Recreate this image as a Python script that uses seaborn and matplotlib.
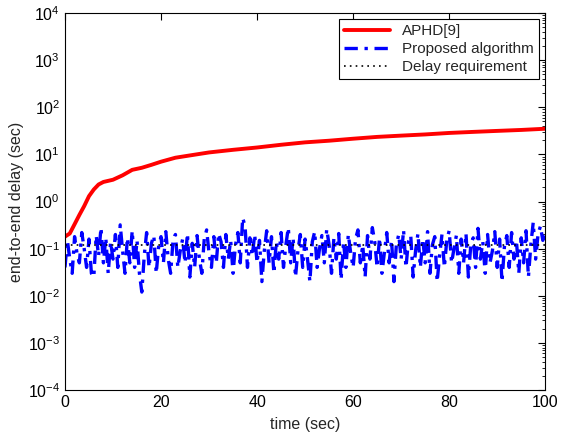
import numpy as np
import pandas as pd
import matplotlib
matplotlib.use("Agg")
import matplotlib.pyplot as plt
import seaborn as sns
from matplotlib.ticker import FixedLocator, NullFormatter

# ---- data ----
t_red = [0, 1, 2, 3, 4, 5, 6, 7, 8, 10, 12, 14, 16, 18, 20, 23, 26, 30, 35, 40, 45,
         50, 55, 60, 65, 70, 75, 80, 85, 90, 95, 100]
aphd = [0.18, 0.21, 0.33, 0.52, 0.8, 1.3, 1.8, 2.3, 2.6, 2.9, 3.6, 4.7, 5.2, 6.0,
        7.0, 8.5, 9.5, 11.0, 12.5, 14.0, 16.0, 18.0, 19.5, 21.5, 23.5, 25.0, 26.5,
        28.5, 30.0, 31.5, 33.0, 35.0]

t_blue = [i * 0.5 for i in range(201)]
proposed = [
    0.04, 0.15, 0.06, 0.03, 0.18, 0.08, 0.05, 0.22, 0.10, 0.04,
    0.16, 0.03, 0.025, 0.19, 0.07, 0.28, 0.05, 0.17, 0.03, 0.14,
    0.06, 0.20, 0.04, 0.32, 0.09, 0.03, 0.17, 0.05, 0.24, 0.04,
    0.15, 0.03, 0.012, 0.07, 0.22, 0.04, 0.13, 0.19, 0.03, 0.11,
    0.18, 0.05, 0.23, 0.06, 0.03, 0.15, 0.20, 0.04, 0.09, 0.16,
    0.05, 0.21, 0.025, 0.13, 0.04, 0.19, 0.06, 0.03, 0.16, 0.25,
    0.08, 0.04, 0.18, 0.05, 0.21, 0.14, 0.04, 0.20, 0.06, 0.15,
    0.03, 0.12, 0.22, 0.05, 0.45, 0.30, 0.04, 0.17, 0.07, 0.20,
    0.05, 0.15, 0.02, 0.09, 0.24, 0.05, 0.18, 0.03, 0.14, 0.06,
    0.22, 0.04, 0.12, 0.28, 0.05, 0.17, 0.025, 0.09, 0.20, 0.04,
    0.16, 0.06, 0.02, 0.14, 0.23, 0.04, 0.10, 0.19, 0.05, 0.26,
    0.12, 0.03, 0.17, 0.06, 0.21, 0.022, 0.14, 0.04, 0.20, 0.08,
    0.04, 0.16, 0.25, 0.05, 0.12, 0.025, 0.19, 0.06, 0.28, 0.14,
    0.04, 0.17, 0.03, 0.08, 0.22, 0.05, 0.15, 0.02, 0.12, 0.20,
    0.06, 0.25, 0.04, 0.14, 0.19, 0.025, 0.09, 0.21, 0.04, 0.16,
    0.05, 0.23, 0.03, 0.12, 0.18, 0.02, 0.07, 0.20, 0.04, 0.15,
    0.24, 0.05, 0.10, 0.19, 0.03, 0.16, 0.05, 0.21, 0.025, 0.12,
    0.17, 0.04, 0.27, 0.06, 0.14, 0.03, 0.20, 0.05, 0.09, 0.23,
    0.04, 0.16, 0.02, 0.11, 0.19, 0.04, 0.22, 0.06, 0.15, 0.03,
    0.17, 0.05, 0.24, 0.025, 0.12, 0.36, 0.06, 0.20, 0.30, 0.15,
    0.25,
]
req_t = [0, 100]
req = [0.12, 0.12]

x_ticks = [0, 20, 40, 60, 80, 100]
y_exps = [-4, -3, -2, -1, 0, 1, 2, 3, 4]

# ---- style ----
sns.set_style("white")
plt.rcParams['font.family'] = ['Liberation Sans', 'DejaVu Sans']
plt.rcParams['mathtext.fontset'] = 'custom'
plt.rcParams['mathtext.rm'] = 'Liberation Sans'
plt.rcParams['mathtext.it'] = 'Liberation Sans'

fig = plt.figure(figsize=(5.65, 4.32), dpi=100)
ax = fig.add_axes([0.115, 0.097, 0.85, 0.873])

sns.lineplot(x=t_red, y=aphd, ax=ax, color='#ff0000', linewidth=2.8,
             label='APHD[9]')
sns.lineplot(x=t_blue, y=proposed, ax=ax, color='#0000ff', linewidth=2.4,
             linestyle=(0, (4, 2, 1, 2)), label='Proposed algorithm')
sns.lineplot(x=req_t, y=req, ax=ax, color='black', linewidth=1.2,
             linestyle=(0, (1, 2.5)), label='Delay requirement')

ax.set_yscale('log')
ax.set_xlim(0, 100)
ax.set_ylim(1e-4, 1e4)
ax.xaxis.set_major_locator(FixedLocator(x_ticks))
ax.yaxis.set_major_locator(FixedLocator([10.0 ** e for e in y_exps]))
minor = [m * 10.0 ** e for e in y_exps[:-1] for m in range(2, 10)]
ax.yaxis.set_minor_locator(FixedLocator(minor))
ax.yaxis.set_minor_formatter(NullFormatter())
ax.set_yticklabels([f'$10^{{{e}}}$' for e in y_exps])

ax.tick_params(which='both', direction='in', top=True, right=True, labelsize=11.5,
               colors='black')
ax.tick_params(which='major', length=5, width=0.8)
ax.tick_params(which='minor', length=2.5, width=0.6)
for s in ax.spines.values():
    s.set_color('black')
    s.set_linewidth(0.8)

ax.set_xlabel('time (sec)', fontsize=11.5, labelpad=5)
ax.set_ylabel('end-to-end delay (sec)', fontsize=11.5, labelpad=3)

leg = ax.legend(loc='upper right', fontsize=11, frameon=True, fancybox=False,
                edgecolor='black', framealpha=1, borderaxespad=0.4,
                handlelength=3.0, labelspacing=0.25, borderpad=0.35)
leg.get_frame().set_linewidth(0.8)

fig.savefig('out.png', dpi=100, facecolor='white')
